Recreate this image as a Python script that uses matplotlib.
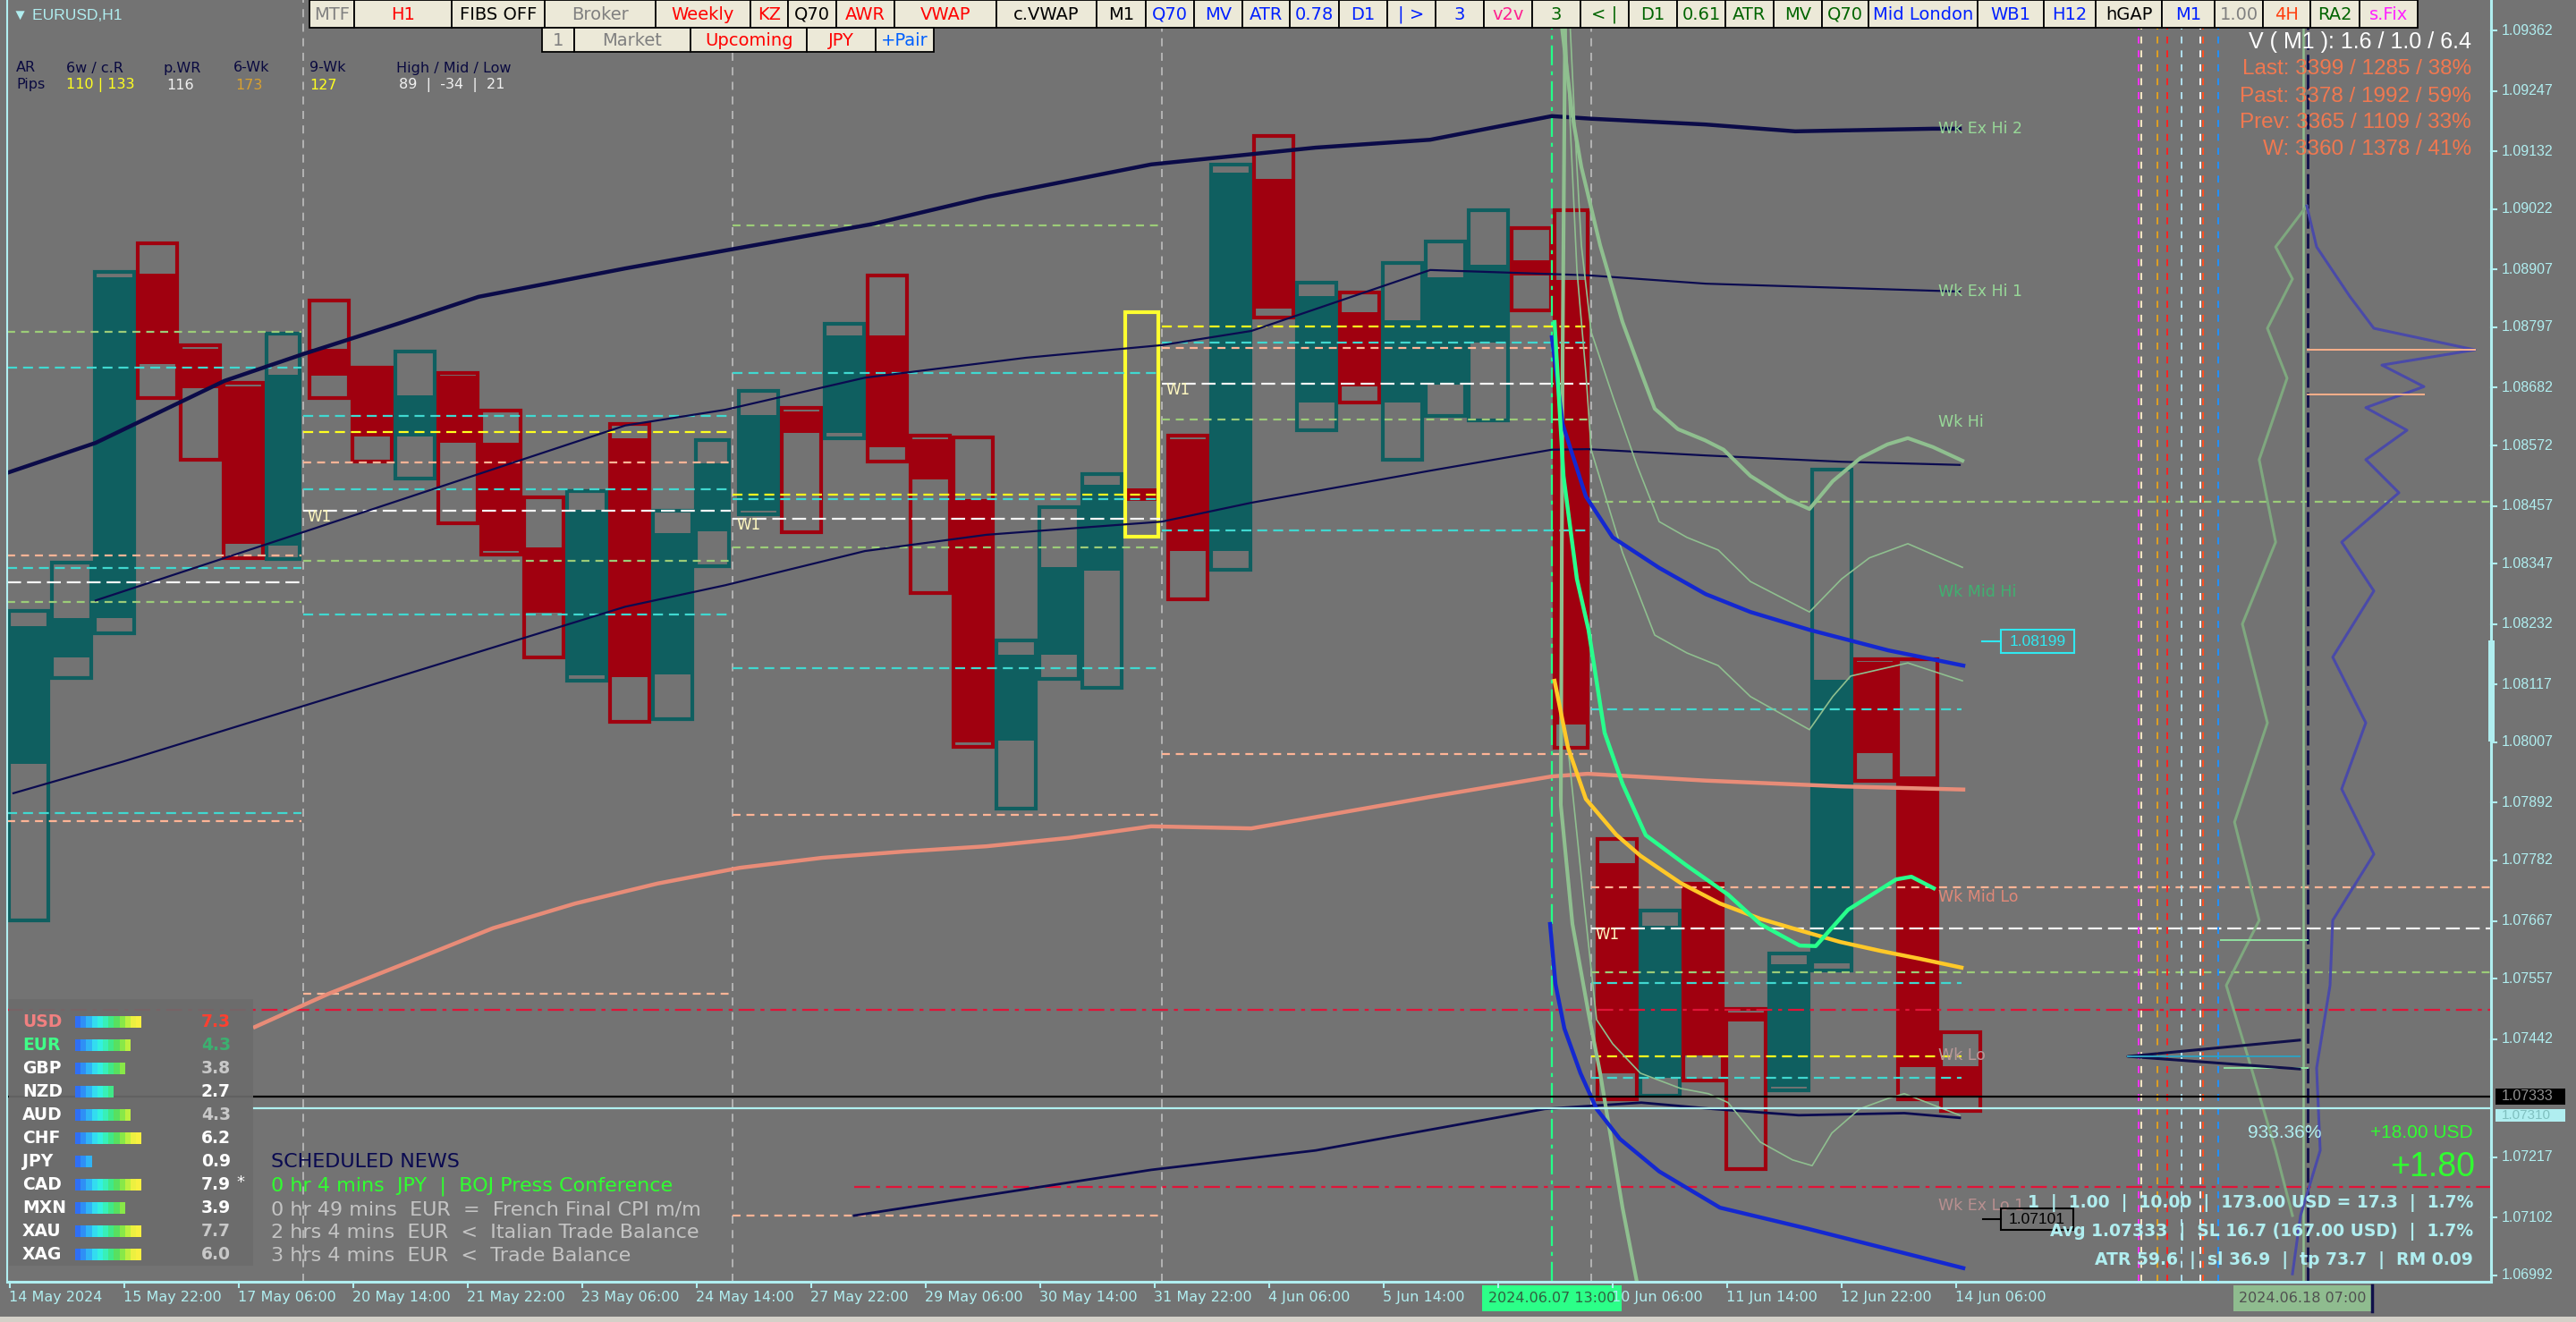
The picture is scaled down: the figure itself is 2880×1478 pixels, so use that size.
import matplotlib
matplotlib.use("Agg")
import matplotlib.pyplot as plt
from matplotlib.patches import Rectangle
from matplotlib import font_manager

_installed = {f.name for f in font_manager.fontManager.ttflist}
NARROW = 'Liberation Sans Narrow' if 'Liberation Sans Narrow' in _installed else 'DejaVu Sans'
SANS = 'Liberation Sans' if 'Liberation Sans' in _installed else 'DejaVu Sans'
BOLD = 'DejaVu Sans'

# ---------------------------------------------------------------- data
symbol = "EURUSD,H1"

# H12 candles (bar index of the first H1 bar, OHLC)
box_start = [-1, 11, 23, 35, 47, 59, 71,
             83, 95, 107, 119, 131, 143, 155, 167, 179, 191,
             203, 215, 227, 239, 251, 263, 275, 287, 299, 311,
             323, 335, 347, 359, 371, 383, 395, 407, 419, 431,
             443, 455, 467, 479, 491, 503, 515, 527, 539]
box_open = [1.07966, 1.08169, 1.08243, 1.08899, 1.08756, 1.08684, 1.08381,
            1.08756, 1.08717, 1.08589, 1.08705, 1.08577, 1.08378, 1.08134, 1.08586, 1.08136, 1.08409,
            1.08448, 1.08637, 1.08596, 1.08782, 1.08584, 1.08470, 1.08010, 1.08174, 1.08334, 1.08490,
            1.08584, 1.08371, 1.09080, 1.08654, 1.08826, 1.08654, 1.08688, 1.08768, 1.08925, 1.08887,
            1.07777, 1.07368, 1.07734, 1.07493, 1.07351, 1.07586, 1.08160, 1.07942, 1.07390]
box_high = [1.08257, 1.08349, 1.08902, 1.08957, 1.08763, 1.08691, 1.08785,
            1.08848, 1.08720, 1.08751, 1.08710, 1.08638, 1.08473, 1.08485, 1.08613, 1.08448, 1.08582,
            1.08676, 1.08644, 1.08804, 1.08896, 1.08591, 1.08587, 1.08201, 1.08455, 1.08518, 1.08826,
            1.08591, 1.09107, 1.09161, 1.08882, 1.08863, 1.08919, 1.08960, 1.09020, 1.08986, 1.09020,
            1.07823, 1.07687, 1.07738, 1.07499, 1.07605, 1.08526, 1.08165, 1.08165, 1.07455]
box_low = [1.07668, 1.08129, 1.08214, 1.08662, 1.08545, 1.08357, 1.08356,
           1.08662, 1.08541, 1.08509, 1.08424, 1.08364, 1.08169, 1.08124, 1.08046, 1.08051, 1.08342,
           1.08441, 1.08407, 1.08586, 1.08541, 1.08291, 1.07998, 1.07881, 1.08128, 1.08111, 1.08398,
           1.08279, 1.08335, 1.08816, 1.08601, 1.08654, 1.08545, 1.08628, 1.08620, 1.08829, 1.07997,
           1.07327, 1.07334, 1.07363, 1.07195, 1.07344, 1.07573, 1.07934, 1.07327, 1.07305]
box_close = [1.08228, 1.08243, 1.08892, 1.08727, 1.08681, 1.08385, 1.08707,
             1.08705, 1.08589, 1.08667, 1.08577, 1.08371, 1.08254, 1.08449, 1.08131, 1.08405, 1.08538,
             1.08630, 1.08596, 1.08782, 1.08569, 1.08507, 1.08007, 1.08174, 1.08341, 1.08497, 1.08467,
             1.08371, 1.09091, 1.08833, 1.08856, 1.08684, 1.08810, 1.08892, 1.08916, 1.08896, 1.08041,
             1.07377, 1.07658, 1.07411, 1.07476, 1.07585, 1.08126, 1.07986, 1.07389, 1.07333]
highlighted_box = 311
week_first_bar = [-1, 82, 202, 322, 442]
week_last_bar = [81, 201, 321, 441, 561]

current_bid = 1.07333
current_ask = 1.07310

# moving averages / weekly structure lines: (bar, price)
ma_slow_x = [-0.25, 24, 60, 82, 109, 131, 172, 241.5, 273, 319, 365, 397, 431, 442, 474, 499, 537.5, 545]
ma_slow_y = [1.08521, 1.08577, 1.08695, 1.08746, 1.08805, 1.08855, 1.08909, 1.08994, 1.09045,
             1.09107, 1.09139, 1.09154, 1.09199, 1.09194, 1.09183, 1.09170, 1.09175, 1.09175]
exhi1_x = [24, 82, 172, 200, 239, 284, 322, 347, 397, 441, 474, 545]
exhi1_y = [1.08277, 1.08407, 1.08610, 1.08640, 1.08701, 1.08739, 1.08763, 1.08790, 1.08906,
           1.08896, 1.08880, 1.08865]
wkhi_x = [1, 32, 172, 200, 239, 273, 322, 347, 397, 431, 441, 474, 512, 545]
wkhi_y = [1.07910, 1.07971, 1.08265, 1.08306, 1.08371, 1.08402, 1.08427, 1.08463, 1.08524,
          1.08564, 1.08565, 1.08553, 1.08541, 1.08535]
wklo_x = [236, 319, 365, 429, 456, 476, 500, 529.5, 545]
wklo_y = [1.07106, 1.07193, 1.07230, 1.07309, 1.07321, 1.07309, 1.07297, 1.07301, 1.07292]
vwap_x = [68.5, 89, 112, 135, 158, 181, 204, 227, 250, 273, 296, 319, 347, 397, 431, 441, 474, 512, 546]
vwap_y = [1.07465, 1.07528, 1.07590, 1.07653, 1.07700, 1.07738, 1.07768, 1.07787, 1.07799, 1.07809,
          1.07825, 1.07847, 1.07843, 1.07903, 1.07942, 1.07947, 1.07934, 1.07923, 1.07917]

# anchored lines from 2024.06.07 13:00
anchor_bar = 431
blue_up_x = [431, 434, 440.5, 448, 461, 474, 486.5, 503, 525, 546]
blue_up_y = [1.08778, 1.08613, 1.08475, 1.08397, 1.08339, 1.08289, 1.08255, 1.08221, 1.08182, 1.08153]
blue_dn_x = [430.5, 432, 434.5, 439, 443.5, 450, 461, 478, 502.5, 546]
blue_dn_y = [1.07661, 1.07547, 1.07462, 1.07377, 1.07309, 1.07252, 1.07190, 1.07121, 1.07081, 1.07006]
green_x = [431.75, 434.25, 438, 441.25, 445.75, 450.75, 457.25, 468.75, 480.25, 489.25, 500.25,
           504.75, 513.75, 527.25, 531.5, 537.75]
green_y = [1.08807, 1.08514, 1.08318, 1.08221, 1.08025, 1.07928, 1.07830, 1.07772, 1.07717,
           1.07661, 1.07620, 1.07619, 1.07688, 1.07746, 1.07751, 1.07729]
gold_x = [431.75, 435.5, 440.5, 449, 455.75, 467, 478, 489.25, 500.25, 511.5, 522.75, 533.75, 545.5]
gold_y = [1.08124, 1.07997, 1.07899, 1.07831, 1.07791, 1.07739, 1.07700, 1.07671, 1.07649,
          1.07627, 1.07610, 1.07595, 1.07578]
band_hi_x = [433.5, 436.75, 439.25, 444.5, 450.75, 456, 459.75, 466.25, 473.75, 479, 486.5, 496.75,
             503, 509.5, 517.25, 524.75, 530.5, 537.5, 545.75]
band_hi_y = [1.09386, 1.09199, 1.09102, 1.08953, 1.08807, 1.08710, 1.08642, 1.08603, 1.08582,
             1.08564, 1.08514, 1.08470, 1.08451, 1.08504, 1.08548, 1.08574, 1.08586, 1.08569, 1.08543]
band_lo_x = [434.75, 434, 433.5, 436.75, 441.25, 444.5, 450.75, 454.75]
band_lo_y = [1.09420, 1.08739, 1.07888, 1.07661, 1.07491, 1.07377, 1.07121, 1.06980]
band_mh1_x = [436, 438, 439.25, 442, 448.25, 454.75, 461, 468.75, 477.5, 486.5, 503, 512, 519.75, 530.5, 545.75]
band_mh1_y = [1.09386, 1.09102, 1.08953, 1.08788, 1.08661, 1.08535, 1.08427, 1.08397, 1.08373,
              1.08313, 1.08255, 1.08318, 1.08358, 1.08385, 1.08340]
band_mh2_x = [434.75, 438, 440.5, 442, 450.75, 459.75, 468.75, 477.5, 486.5, 503, 509.5, 514.5, 530.5, 545.75]
band_mh2_y = [1.09386, 1.08906, 1.08710, 1.08564, 1.08368, 1.08211, 1.08177, 1.08153, 1.08094,
              1.08031, 1.08094, 1.08133, 1.08158, 1.08124]
band_ml_x = [435.75, 439.75, 443.5, 448, 455.75, 467, 474.75, 480.25, 489.25, 498.25, 503.75,
             509.25, 517, 525, 529.5, 545]
band_ml_y = [1.07981, 1.07717, 1.07479, 1.07433, 1.07377, 1.07348, 1.07338, 1.07321, 1.07246,
             1.07212, 1.07201, 1.07263, 1.07309, 1.07329, 1.07338, 1.07297]

# weekly levels, one list per week
lv_green = [[1.08788, 1.08274], [1.08352], [1.08991, 1.08378], [1.08621], [1.08465, 1.07569]]
lv_cyan = [[1.08720, 1.08339, 1.07872], [1.08628, 1.08489, 1.08250], [1.08710, 1.08470, 1.08148],
           [1.08768, 1.08410], [1.08070, 1.07549, 1.07368]]
lv_peach = [[1.08363, 1.07857], [1.08540, 1.07528], [1.07869, 1.07106], [1.08758, 1.07985], [1.07731]]
lv_white = [[1.08312], [1.08448], [1.08432], [1.08690], [1.07653]]
lv_yellow = [[], [1.08598], [1.08478], [1.08799], [1.07409]]
red_levels = [1.07498, 1.07160]
red_level_from = [-0.75, 236]

# time axis
tick_bars = [0, 32, 64, 96, 128, 160, 192, 224, 256, 288, 320, 352, 384, 416, 448, 480, 512, 544]
tick_labels = ["14 May 2024", "15 May 22:00", "17 May 06:00", "20 May 14:00", "21 May 22:00",
               "23 May 06:00", "24 May 14:00", "27 May 22:00", "29 May 06:00", "30 May 14:00",
               "31 May 22:00", "4 Jun 06:00", "5 Jun 14:00", "", "10 Jun 06:00",
               "11 Jun 14:00", "12 Jun 22:00", "14 Jun 06:00"]
price_ticks = [1.09362, 1.09247, 1.09132, 1.09022, 1.08907, 1.08797, 1.08682, 1.08572, 1.08457,
               1.08347, 1.08232, 1.08117, 1.08007, 1.07892, 1.07782, 1.07667, 1.07557, 1.07442,
               1.07217, 1.07102, 1.06992]
future_bar = 642.25
session_bars = [595, 595.75, 600.25, 603, 607, 612.25, 613, 617.25]

# volume profile (bar position of the curve, price)
prof_blue_x = [642, 644.75, 654, 660.75, 689, 663, 674.75, 658.5, 670, 658.5, 667.75, 651.75,
               660.75, 649.25, 658.5, 651.75, 660.75, 649.25, 648.5, 644.75, 645.75, 640.25, 638]
prof_blue_y = [1.09028, 1.08950, 1.08856, 1.08795, 1.08754, 1.08725, 1.08684, 1.08644, 1.08601,
               1.08545, 1.08482, 1.08388, 1.08295, 1.08169, 1.08044, 1.07918, 1.07794, 1.07668,
               1.07544, 1.07387, 1.07230, 1.07106, 1.06995]
prof_sage_x = [642, 633.3, 638, 631, 636.5, 628.7, 633.3, 624, 631, 621.8, 628.7, 619.5, 626.5, 633.3, 638]
prof_sage_y = [1.09028, 1.08950, 1.08889, 1.08795, 1.08700, 1.08545, 1.08388, 1.08232, 1.08044,
               1.07855, 1.07668, 1.07544, 1.07387, 1.07230, 1.07106]
poc_prices = [1.08754, 1.08669]
poc_ends = [689, 674.75]
node_prices = [1.07630, 1.07387]
node_from = [618, 619]
spike_x = [640, 592, 640]
spike_y = [1.07440, 1.07409, 1.07385]

# currency strength
cur_names = ["USD", "EUR", "GBP", "NZD", "AUD", "CHF", "JPY", "CAD", "MXN", "XAU", "XAG"]
cur_values = [7.3, 4.3, 3.8, 2.7, 4.3, 6.2, 0.9, 7.9, 3.9, 7.7, 6.0]

news_lines = ["0 hr 4 mins  JPY  |  BOJ Press Conference",
              "0 hr 49 mins  EUR  =  French Final CPI m/m",
              "2 hrs 4 mins  EUR  <  Italian Trade Balance",
              "3 hrs 4 mins  EUR  <  Trade Balance"]

# ---------------------------------------------------------------- figure
W, H = 2880, 1478
BG = "#737373"
fig = plt.figure(figsize=(W / 100, H / 100), dpi=100)
fig.patch.set_facecolor(BG)

PL, PR, PT, PB = 8, 2785, 0, 1433
ax = fig.add_axes([PL / W, 1 - PB / H, (PR - PL) / W, (PB - PT) / H])
ax.set_xlim(-0.75, 693.5)
ax.set_ylim(1.06980, 1.09420)
ax.axis("off")

ui = fig.add_axes([0, 0, 1, 1], zorder=10)
ui.set_xlim(0, W)
ui.set_ylim(H, 0)
ui.axis("off")
ui.patch.set_alpha(0)

TEAL = "#0f5f60"
RED = "#a0000f"

# H12 boxes
for k, s in enumerate(box_start):
    wk = max(i for i in range(len(week_first_bar)) if week_first_bar[i] <= s)
    left = s + 0.25 if s >= 0 else -0.75
    right = min(s + 12.25, week_last_bar[wk] + 0.5)
    o, h, l, c = box_open[k], box_high[k], box_low[k], box_close[k]
    col = TEAL if c >= o else RED
    edge = "#ffff30" if s == highlighted_box else col
    ax.add_patch(Rectangle((left, min(o, c)), right - left, abs(c - o), facecolor=col,
                           edgecolor="none", zorder=2))
    ax.add_patch(Rectangle((left + 0.4, l), right - left - 0.8, h - l, facecolor="none",
                           edgecolor=edge, lw=3.0, zorder=2.5))

# weekly level lines
def seg_end(w, kind):
    if w == len(week_first_bar) - 1:
        return 545.5 if kind in ("cyan", "yellow") else 693.5
    return week_last_bar[w] + 0.5

level_style = {"green": ("#9ccc78", (0, (4, 3))), "cyan": ("#40d8d0", (0, (5, 3))),
               "peach": ("#ffb496", (0, (4, 3))), "white": ("#f4f4f4", (0, (7, 3))),
               "yellow": ("#ffff20", (0, (5, 3)))}
for kind, lv in (("green", lv_green), ("cyan", lv_cyan), ("peach", lv_peach),
                 ("white", lv_white), ("yellow", lv_yellow)):
    colr, ls = level_style[kind]
    for w, prices in enumerate(lv):
        x0 = max(week_first_bar[w], -0.75)
        for p in prices:
            ax.plot([x0, seg_end(w, kind)], [p, p], color=colr, lw=1.6, ls=ls, zorder=3)

for p, x0 in zip(red_levels, red_level_from):
    ax.plot([x0, 693.5], [p, p], color="#e01438", lw=1.6, ls=(0, (8, 3, 2, 3)), zorder=3)

# vertical separators
for b in week_first_bar[1:]:
    ax.axvline(b, color="#b8b8b8", lw=1.3, ls=(0, (5, 4)), zorder=1.5)
ax.axvline(anchor_bar, color="#22ff88", lw=1.6, ls=(0, (10, 3, 2, 3)), zorder=3)
sess_cols = ["#ff30ff", "#ffe8c8", "#e0a020", "#ff2020", "#b0e0f0", "#ffffff", "#ff5020", "#2090ff"]
for b, cc in zip(session_bars, sess_cols):
    ax.axvline(b, color=cc, lw=1.4, ls=(0, (4, 4)), zorder=3)
ax.axvline(future_bar - 1.2, color="#8fbf8f", lw=1.8, zorder=3)
ax.axvline(future_bar, color="#10104a", lw=2.0, ls=(0, (6, 2)), zorder=3)

# lines
ax.plot(ma_slow_x, ma_slow_y, color="#0b0b48", lw=3.2, zorder=4)
ax.plot(exhi1_x, exhi1_y, color="#0b0b50", lw=1.6, zorder=4)
ax.plot(wkhi_x, wkhi_y, color="#0b0b50", lw=1.6, zorder=4)
ax.plot(wklo_x, wklo_y, color="#0b0b50", lw=2.0, zorder=4)
ax.plot(vwap_x, vwap_y, color="#e88c78", lw=3.2, zorder=4)
ax.plot(band_hi_x, band_hi_y, color="#8fbf8f", lw=3.0, zorder=4)
ax.plot(band_lo_x, band_lo_y, color="#8fbf8f", lw=3.0, zorder=4)
ax.plot(band_mh1_x, band_mh1_y, color="#8fbf8f", lw=1.2, zorder=4)
ax.plot(band_mh2_x, band_mh2_y, color="#8fbf8f", lw=1.2, zorder=4)
ax.plot(band_ml_x, band_ml_y, color="#8fbf8f", lw=1.2, zorder=4)
ax.plot(blue_up_x, blue_up_y, color="#1428d0", lw=3.2, zorder=5)
ax.plot(blue_dn_x, blue_dn_y, color="#1428d0", lw=3.2, zorder=5)
ax.plot(gold_x, gold_y, color="#ffc828", lw=3.2, zorder=5)
ax.plot(green_x, green_y, color="#28ff8c", lw=3.2, zorder=5)

# volume profile
ax.plot(prof_sage_x, prof_sage_y, color="#7fa87f", lw=2.2, zorder=4)
ax.plot(prof_blue_x, prof_blue_y, color="#4a4aa8", lw=2.2, zorder=4)
for p, e in zip(poc_prices, poc_ends):
    ax.plot([future_bar, e], [p, p], color="#ffb08a", lw=1.4, zorder=4)
for p, x0 in zip(node_prices, node_from):
    ax.plot([x0, future_bar], [p, p], color="#90e0a0", lw=1.4, zorder=4)
ax.plot(spike_x, spike_y, color="#10104a", lw=2.2, zorder=4)
ax.plot(spike_x[1:], [spike_y[1], spike_y[1]], color="#30a0c0", lw=1.4, zorder=4)

# current price lines
ax.axhline(current_bid, color="#000000", lw=1.6, zorder=6)
ax.plot([68, 693.5], [current_ask, current_ask], color="#b0f0f0", lw=1.6, zorder=6)

# W1 tags
for w, wl in zip(week_first_bar[1:], lv_white[1:]):
    ax.text(w + 1, wl[0] - 0.00012, "W1", color="#fff8c0", fontsize=12, family=NARROW,
            va="center", ha="left", zorder=7)

# weekly labels at the right end
wk_labels = [("Wk Ex Hi 2", ma_slow_y[-1], "#98d898"), ("Wk Ex Hi 1", exhi1_y[-1], "#98d898"),
             ("Wk Hi", band_hi_y[-3] + 0.00030, "#98d898"), ("Wk Mid Hi", 1.08292, "#40b070"),
             ("Wk Mid Lo", 1.07712, "#e08878"), ("Wk Lo", 1.07410, "#b89898"),
             ("Wk Ex Lo 1", 1.07125, "#b89090")]
for txt, p, cc in wk_labels:
    ax.text(539, p, txt, color=cc, fontsize=12.5, family=NARROW, va="center", ha="left", zorder=7)

# ---------------------------------------------------------------- axes frame
def py(p):
    return PB - (p - 1.06980) / (1.09420 - 1.06980) * (PB - PT)

def px(b):
    return 11 + 4 * b

AXC = "#b0eef0"
ui.plot([PL, PL], [0, PB], color=AXC, lw=1.5)
ui.plot([PR, PR], [0, PB], color=AXC, lw=2.2)
ui.plot([PL, PR], [PB, PB], color=AXC, lw=2.2)
ui.add_patch(Rectangle((0, 1472), W, 6, facecolor="#d4d0c8", edgecolor="none"))
for p in price_ticks:
    y = py(p)
    ui.plot([PR, PR + 6], [y, y], color=AXC, lw=1.5)
    ui.text(2797, y, f"{p:.5f}", color=AXC, fontsize=11.5, family=SANS, va="center", ha="left")
ui.add_patch(Rectangle((PR - 3, 716), 7, 113, facecolor=AXC, edgecolor="none"))
ui.add_patch(Rectangle((2790, py(current_bid) - 9), 78, 18, facecolor="#000000", edgecolor="none"))
ui.text(2797, py(current_bid), f"{current_bid:.5f}", color="#909090", fontsize=11.5,
        family=SANS, va="center", ha="left")
ui.add_patch(Rectangle((2790, py(current_ask) + 1), 78, 14, facecolor=AXC, edgecolor="none"))
ui.text(2797, py(current_ask) + 8, f"{current_ask:.5f}", color="#80c0c0", fontsize=11,
        family=SANS, va="center", ha="left")

for b, lab in zip(tick_bars, tick_labels):
    x = px(b)
    ui.plot([x, x], [PB, PB + 6], color=AXC, lw=1.5)
    if lab:
        ui.text(x - 1, 1451, lab, color=AXC, fontsize=11.5, family=NARROW, va="center", ha="left")
ui.add_patch(Rectangle((1657, 1437), 156, 29, facecolor="#2cff88", edgecolor="none"))
ui.text(1735, 1451, "2024.06.07 13:00", color="#306040", fontsize=11.5, family=NARROW,
        va="center", ha="center")
ui.add_patch(Rectangle((2497, 1437), 154, 29, facecolor="#8fbc8f", edgecolor="none"))
ui.plot([2652, 2652], [1437, 1466], color="#10104a", lw=2.5)
ui.text(2574, 1451, "2024.06.18 07:00", color="#505050", fontsize=11.5, family=NARROW,
        va="center", ha="center")

# ---------------------------------------------------------------- toolbar
BTN = "#ece9d8"
row1 = [("MTF", 346, 396, "#808080"), ("H1", 396, 505, "#ff0000"), ("FIBS OFF", 505, 609, "#000000"),
        ("Broker", 609, 733, "#808080"), ("Weekly", 733, 839, "#ff0000"), ("KZ", 839, 881, "#ff0000"),
        ("Q70", 881, 935, "#000000"), ("AWR", 935, 1000, "#ff0000"), ("VWAP", 1000, 1114, "#ff0000"),
        ("c.VWAP", 1114, 1226, "#000000"), ("M1", 1226, 1281, "#000000"), ("Q70", 1281, 1335, "#0020ff"),
        ("MV", 1335, 1389, "#0020ff"), ("ATR", 1389, 1442, "#0020ff"), ("0.78", 1442, 1497, "#0020ff"),
        ("D1", 1497, 1551, "#0020ff"), ("| >", 1551, 1605, "#0020ff"), ("3", 1605, 1659, "#0020ff"),
        ("v2v", 1659, 1713, "#ff2090"), ("3", 1713, 1767, "#006400"), ("< |", 1767, 1821, "#006400"),
        ("D1", 1821, 1875, "#006400"), ("0.61", 1875, 1929, "#006400"), ("ATR", 1929, 1983, "#006400"),
        ("MV", 1983, 2037, "#006400"), ("Q70", 2037, 2089, "#006400"), ("Mid London", 2089, 2211, "#0020ff"),
        ("WB1", 2211, 2285, "#0020ff"), ("H12", 2285, 2343, "#0020ff"), ("hGAP", 2343, 2417, "#000000"),
        ("M1", 2417, 2476, "#0020ff"), ("1.00", 2476, 2530, "#808080"), ("4H", 2530, 2583, "#ff4010"),
        ("RA2", 2583, 2638, "#006400"), ("s.Fix", 2638, 2703, "#ff20ff")]
row2 = [("1", 606, 642, "#808080"), ("Market", 642, 772, "#808080"), ("Upcoming", 772, 902, "#ff0000"),
        ("JPY", 902, 979, "#ff0000"), ("+Pair", 979, 1044, "#0060ff")]
for row, (y0, y1) in ((row1, (0, 31)), (row2, (31, 58))):
    for lab, x0, x1, cc in row:
        ui.add_patch(Rectangle((x0, y0), x1 - x0, y1 - y0, facecolor=BTN, edgecolor="#000000", lw=1.3))
        ui.text((x0 + x1) / 2, (y0 + y1) / 2 + 1, lab, color=cc, fontsize=14, family=NARROW,
                va="center", ha="center")

# ---------------------------------------------------------------- info texts
ui.text(14, 17, "\u25bc " + symbol, color="#b0eef0", fontsize=12.5, family=SANS, va="center")
hdr = [("AR", 18), ("6w / c.R", 74), ("p.WR", 182), ("6-Wk", 261), ("9-Wk", 346), ("High / Mid / Low", 443)]
for t, x in hdr:
    ui.text(x, 76, t, color="#0a0a40", fontsize=11.5, family=NARROW, va="center")
vals = [("Pips", 18, "#0a0a40"), ("110 | 133", 74, "#ffff20"), ("116", 186, "#f0f0f0"),
        ("173", 263, "#d8a030"), ("127", 346, "#ffff20"), ("89  |  -34  |  21", 446, "#f0f0f0")]
for t, x, cc in vals:
    ui.text(x, 95, t, color=cc, fontsize=11.5, family=NARROW, va="center")

ui.text(2763, 47, "V ( M1 ): 1.6 / 1.0 / 6.4", color="#ffffff", fontsize=18, family=SANS,
        va="center", ha="right")
for t, y in (("Last: 3399 / 1285 / 38%", 77), ("Past: 3378 / 1992 / 59%", 108),
             ("Prev: 3365 / 1109 / 33%", 137), ("W: 3360 / 1378 / 41%", 167)):
    ui.text(2763, y, t, color="#f07850", fontsize=17.5, family=SANS, va="center", ha="right")

# currency strength panel
ui.add_patch(Rectangle((10, 1117), 273, 298, facecolor="#6c6c6c", edgecolor="none", alpha=0.9))
block_cols = ["#2f6ff5", "#2f8ff5", "#30b4f5", "#33dcf0", "#33f0e0", "#38f0b8", "#40e888",
              "#58e060", "#88e848", "#bcf040", "#ecf040", "#f8f040"]
name_cols = {"USD": "#f08080", "EUR": "#40ff88"}
val_cols = {"USD": "#ff4030", "EUR": "#3cb070"}
light_vals = {"GBP", "AUD", "XAU", "XAG"}
for i, (nm, v) in enumerate(zip(cur_names, cur_values)):
    y = 1143 + i * 26
    ui.text(25, y, nm, color=name_cols.get(nm, "#ffffff"), fontsize=13.5, family=NARROW,
            va="center", weight="bold")
    nblk = min(12, int(-(-(2 * v + 1) // 1)))
    for j in range(nblk):
        ui.add_patch(Rectangle((84 + 6.2 * j, y - 7), 6.2, 13, facecolor=block_cols[j], edgecolor="none"))
    vc = val_cols.get(nm, "#c8c8c8" if nm in light_vals else "#ffffff")
    ui.text(258, y, f"{v:.1f}", color=vc, fontsize=13.5, family=NARROW, va="center", ha="right",
            weight="bold")
ui.text(264, 1322, "*", color="#ffffff", fontsize=13, family=NARROW, va="center")

ui.text(303, 1299, "SCHEDULED NEWS", color="#0a0a50", fontsize=16, family=NARROW, va="center")
for i, t in enumerate(news_lines):
    ui.text(303, 1326 + i * 26, t, color="#30ff30" if i == 0 else "#c4c4c4", fontsize=16,
            family=NARROW, va="center")

# trade panel
ui.text(2554, 1266, "933.36%", color="#b0eef0", fontsize=15, family=SANS, va="center", ha="center")
ui.text(2765, 1266, "+18.00 USD", color="#30ff30", fontsize=15, family=SANS, va="center", ha="right")
ui.text(2767, 1305, "+1.80", color="#30ff30", fontsize=27, family=SANS, va="center", ha="right")
for t, y in (("1  |  1.00  |  10.00  |  173.00 USD = 17.3  |  1.7%", 1345),
             ("Avg 1.07333  |  SL 16.7 (167.00 USD)  |  1.7%", 1377),
             ("ATR 59.6  |  sl 36.9  |  tp 73.7  |  RM 0.09", 1409)):
    ui.text(2765, y, t, color="#b0eef0", fontsize=13.5, family=BOLD, weight="bold", va="center", ha="right")

# price tags
ui.plot([2217, 2237], [1363, 1363], color="#000000", lw=1.5)
ui.add_patch(Rectangle((2237, 1351), 81, 24, facecolor="none", edgecolor="#000000", lw=1.5))
ui.text(2277, 1363, "1.07101", color="#000000", fontsize=12.5, family=SANS, va="center", ha="center")
ui.plot([2216, 2237], [717, 717], color="#30e8f0", lw=1.5)
ui.add_patch(Rectangle((2237, 704), 82, 26, facecolor="none", edgecolor="#30e8f0", lw=1.5))
ui.text(2278, 717, "1.08199", color="#30e8f0", fontsize=12.5, family=SANS, va="center", ha="center")

fig.savefig("out.png", dpi=100, facecolor=BG)
